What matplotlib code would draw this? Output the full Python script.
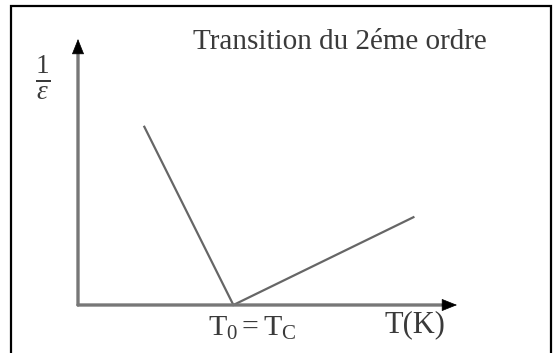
import matplotlib
matplotlib.use('Agg')
import matplotlib.pyplot as plt
from matplotlib.patches import Rectangle

plt.rcParams['font.family'] = 'Liberation Serif'
plt.rcParams['mathtext.fontset'] = 'custom'
plt.rcParams['mathtext.rm'] = 'Liberation Serif'
plt.rcParams['mathtext.it'] = 'Liberation Serif:italic'

# data (arbitrary units): inverse permittivity vs temperature
T = [1.75, 4.1, 8.85]
inv_eps = [6.7, 0.0, 3.3]

title = 'Transition du 2éme ordre'
xlabel = 'T(K)'
ylabel = r'$\frac{1}{\varepsilon}$'
tc_label = r'$\mathrm{T_0 = T_C}$'

W, H = 553, 353
fig = plt.figure(figsize=(W / 100, H / 100), dpi=100)
fig.set_facecolor('white')

# frame round the whole picture (bottom edge is cut off)
fig.patches.append(Rectangle((11 / W, -0.05), 540 / W, 1.05 - 6 / H,
                             transform=fig.transFigure, fill=False,
                             ec='black', lw=1.6))

ax = fig.add_axes([78 / W, 1 - 305 / H, 379 / W, 266 / H])
ax.set_xlim(0, 10)
ax.set_ylim(0, 10)
for s in ax.spines.values():
    s.set_visible(False)
ax.set_xticks([])
ax.set_yticks([])
ax.patch.set_alpha(0)

# axis arrows: grey shafts, black heads
shaft = dict(arrowstyle='-', color='#777777', lw=2.4, shrinkA=0, shrinkB=0)
ax.annotate('', xy=(0.97, 0), xytext=(0, 0), xycoords='axes fraction',
            arrowprops=shaft, annotation_clip=False)
ax.annotate('', xy=(0, 0.96), xytext=(0, 0), xycoords='axes fraction',
            arrowprops=shaft, annotation_clip=False)
head = dict(arrowstyle='-|>,head_length=1.0,head_width=0.4', color='black',
            lw=0.5, shrinkA=0, shrinkB=0)
ax.annotate('', xy=(1, 0), xytext=(0.96, 0), xycoords='axes fraction',
            arrowprops=head, annotation_clip=False)
ax.annotate('', xy=(0, 1), xytext=(0, 0.95), xycoords='axes fraction',
            arrowprops=head, annotation_clip=False)

ax.plot(T, inv_eps, color='#666666', lw=1.6, solid_joinstyle='miter', clip_on=False)

txt = '#3a3a3a'
fig.text(193 / W, 1 - 42 / H, title, ha='left', va='center', fontsize=21, color=txt)
fig.text(43 / W, 1 - 78 / H, ylabel, ha='center', va='center', fontsize=28, color=txt)
fig.text(252 / W, 1 - 328 / H, tc_label, ha='center', va='center', fontsize=21.5, color=txt)
fig.text(415 / W, 1 - 325 / H, xlabel, ha='center', va='center', fontsize=22, color=txt)

fig.savefig('out.png', dpi=100)
